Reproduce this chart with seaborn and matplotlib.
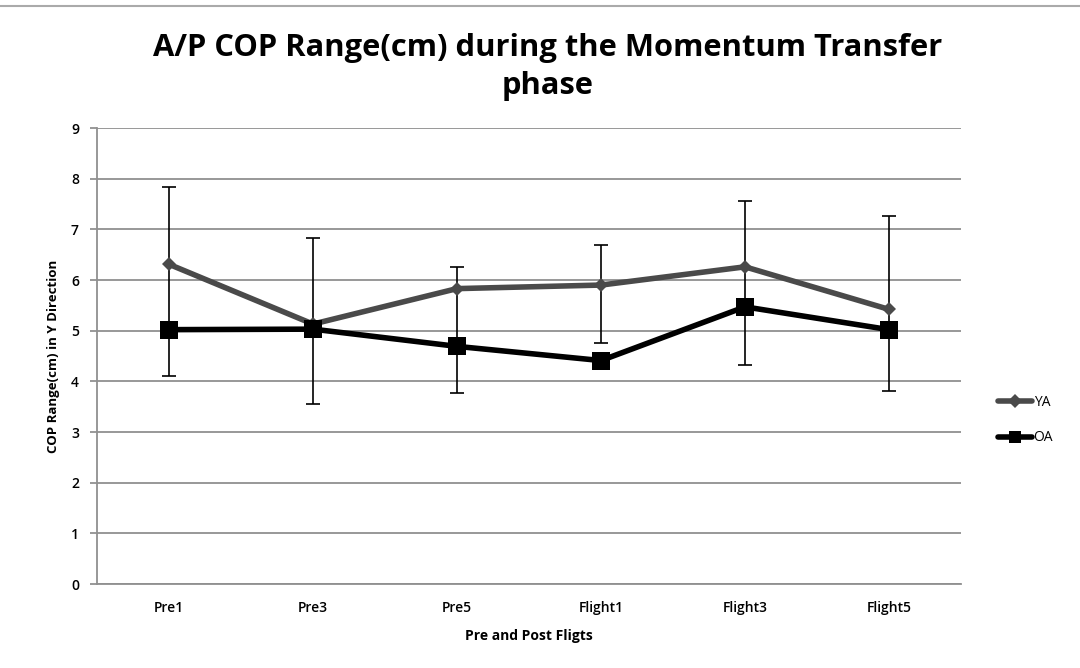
import matplotlib
matplotlib.use("Agg")
import matplotlib.pyplot as plt
from matplotlib.lines import Line2D
import numpy as np
import pandas as pd
import seaborn as sns

categories = ["Pre1", "Pre3", "Pre5", "Flight1", "Flight3", "Flight5"]
ya_values = [6.31, 5.13, 5.83, 5.90, 6.26, 5.42]
oa_values = [5.02, 5.03, 4.69, 4.41, 5.47, 5.02]
err_low = [4.10, 3.56, 3.77, 4.75, 4.32, 3.80]
err_high = [7.84, 6.83, 6.26, 6.69, 7.56, 7.26]

sns.set_theme(style="white")
plt.rcParams["font.family"] = ["Open Sans", "DejaVu Sans"]
plt.rcParams["text.color"] = "black"
plt.rcParams["axes.labelcolor"] = "black"
plt.rcParams["xtick.color"] = "black"
plt.rcParams["ytick.color"] = "black"

fig = plt.figure(figsize=(10.8, 6.68), dpi=100)
ax = fig.add_axes([97/1080, 1 - 584/668, (961-97)/1080, (584-128)/668])

x = np.arange(len(categories))
df = pd.DataFrame({"x": np.concatenate([x, x]),
                   "y": ya_values + oa_values,
                   "series": ["YA"] * len(x) + ["OA"] * len(x)})

ax.errorbar(x, ya_values,
            yerr=[np.array(ya_values) - np.array(err_low), np.array(err_high) - np.array(ya_values)],
            fmt="none", ecolor="black", elinewidth=1.2, capsize=5, capthick=1.2, zorder=2)

sns.lineplot(data=df[df.series == "YA"], x="x", y="y", ax=ax, color="#4a4a4a",
             linewidth=4, marker="D", markersize=7, markeredgewidth=0, sort=False,
             legend=False, zorder=3)
sns.lineplot(data=df[df.series == "OA"], x="x", y="y", ax=ax, color="black",
             linewidth=4, marker="s", markersize=13, markeredgewidth=0, sort=False,
             legend=False, zorder=4)

ax.set_xlim(-0.5, len(categories) - 0.5)
ax.set_ylim(0, 9)
ax.set_yticks(range(0, 10))
ax.set_yticklabels([str(i) for i in range(0, 10)], fontsize=10, fontweight="semibold")
ax.set_xticks(x)
ax.set_xticklabels(categories, fontsize=10, fontweight="semibold")
ax.set_xticks(np.arange(-0.5, len(categories)), minor=True)
ax.tick_params(axis="x", which="major", length=0, pad=12)
ax.tick_params(axis="x", which="minor", length=5, color="#888888", width=1.2, direction="out")
ax.tick_params(axis="y", length=5, color="#888888", width=1.2, direction="out", left=True, pad=8)
ax.grid(axis="y", color="#909090", linewidth=1.3)
ax.grid(axis="x", visible=False)
for s in ["top", "right"]:
    ax.spines[s].set_visible(False)
for s in ["left", "bottom"]:
    ax.spines[s].set_color("#909090")
    ax.spines[s].set_linewidth(1.3)

ax.set_xlabel("Pre and Post Fligts", fontsize=10, fontweight="bold", labelpad=10)
ax.set_ylabel("COP Range(cm) in Y Direction", fontsize=9.5, fontweight="bold", labelpad=8)

fig.text(548/1080, 1 - 67/668, "A/P COP Range(cm) during the Momentum Transfer\nphase",
         ha="center", va="center", fontsize=22.2, fontweight="bold", linespacing=1.32)

handles = [Line2D([0], [0], color="#4a4a4a", linewidth=4, marker="D", markersize=7, markeredgewidth=0),
           Line2D([0], [0], color="black", linewidth=4, marker="s", markersize=8, markeredgewidth=0)]
fig.legend(handles, ["YA", "OA"], loc="center left", bbox_to_anchor=(985/1080, 1 - 420/668),
           frameon=False, fontsize=10, handlelength=2.5, handletextpad=0.1, labelspacing=1.5)

fig.add_artist(Line2D([0, 1], [1 - 6/668, 1 - 6/668], color="#aaaaaa", linewidth=1.5))

fig.savefig("out.png", dpi=100)
